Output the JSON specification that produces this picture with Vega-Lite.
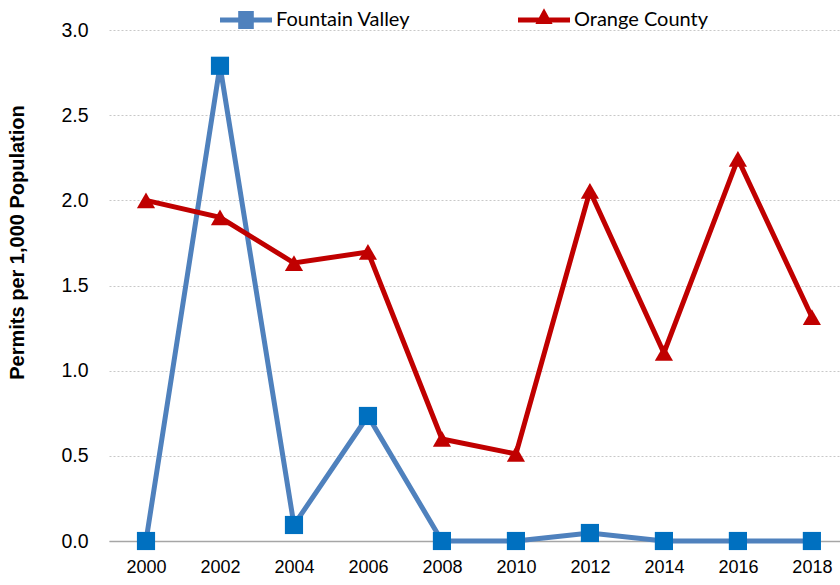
{
  "$schema": "https://vega.github.io/schema/vega-lite/v6.json",
  "autosize": {"type": "none"},
  "width": 731,
  "height": 511,
  "padding": {"left": 109, "top": 30, "right": 0, "bottom": 44},
  "background": "white",
  "config": {"view": {"stroke": null}},
  "data": {"values": [
    {"year": 2000, "series": "Fountain Valley", "v": 0},
    {"year": 2002, "series": "Fountain Valley", "v": 2.79},
    {"year": 2004, "series": "Fountain Valley", "v": 0.094},
    {"year": 2006, "series": "Fountain Valley", "v": 0.734},
    {"year": 2008, "series": "Fountain Valley", "v": 0},
    {"year": 2010, "series": "Fountain Valley", "v": 0},
    {"year": 2012, "series": "Fountain Valley", "v": 0.047},
    {"year": 2014, "series": "Fountain Valley", "v": 0},
    {"year": 2016, "series": "Fountain Valley", "v": 0},
    {"year": 2018, "series": "Fountain Valley", "v": 0},
    {"year": 2000, "series": "Orange County", "v": 2.0},
    {"year": 2002, "series": "Orange County", "v": 1.9},
    {"year": 2004, "series": "Orange County", "v": 1.632},
    {"year": 2006, "series": "Orange County", "v": 1.697},
    {"year": 2008, "series": "Orange County", "v": 0.599},
    {"year": 2010, "series": "Orange County", "v": 0.511},
    {"year": 2012, "series": "Orange County", "v": 2.055},
    {"year": 2014, "series": "Orange County", "v": 1.104},
    {"year": 2016, "series": "Orange County", "v": 2.243},
    {"year": 2018, "series": "Orange County", "v": 1.315}
  ]},
  "encoding": {
    "x": {
      "field": "year", "type": "quantitative",
      "scale": {"domain": [1999, 2018.76], "nice": false, "zero": false},
      "axis": {
        "values": [2000, 2002, 2004, 2006, 2008, 2010, 2012, 2014, 2016, 2018],
        "format": "d", "title": null, "grid": false, "ticks": false,
        "domainColor": "#a6a6a6", "domainWidth": 1.5,
        "labelFont": "Liberation Sans", "labelFontSize": 18, "labelColor": "#000000",
        "labelPadding": 17, "labelFlush": false
      }
    },
    "y": {
      "field": "v", "type": "quantitative",
      "scale": {"domain": [0, 3], "nice": false},
      "axis": {
        "values": [0, 0.5, 1, 1.5, 2, 2.5, 3],
        "format": ".1f", "title": "Permits per 1,000 Population",
        "titleFont": "Liberation Sans", "titleFontSize": 20, "titleFontWeight": "bold", "titleColor": "#000000",
        "titlePadding": 33, "titleY": 212,
        "domain": false, "ticks": false,
        "gridColor": "#c8c8c8", "gridDash": [2, 2], "gridWidth": 1,
        "labelFont": "Liberation Sans", "labelFontSize": 19.5, "labelColor": "#000000",
        "labelPadding": 21
      }
    }
  },
  "layer": [
    {
      "mark": {"type": "line", "strokeWidth": 5},
      "encoding": {
        "color": {
          "field": "series", "type": "nominal",
          "scale": {"domain": ["Fountain Valley", "Orange County"], "range": ["#4f81bd", "#c00000"]},
          "legend": {
            "title": null, "orient": "none", "direction": "horizontal",
            "legendX": 111, "legendY": -36,
            "symbolSize": 2704, "symbolStrokeWidth": 0,
            "labelFont": "Lato", "labelFontSize": 20, "labelColor": "#000000",
            "labelOffset": 4, "columnPadding": 107,
            "encode": {
              "symbols": {"update": {
                "shape": {"signal": "datum.value === 'Fountain Valley' ? 'M-1,-0.1H1V0.1H-1Z M-0.3,-0.35H0.3V0.35H-0.3Z' : 'M-1,-0.1H1V0.1H-1Z M0,-0.45L0.33,0.15H-0.33Z'"},
                "fill": {"signal": "datum.value === 'Fountain Valley' ? '#4f81bd' : '#c00000'"},
                "strokeWidth": {"value": 0},
                "opacity": {"value": 1}
              }}
            }
          }
        }
      }
    },
    {
      "mark": {"type": "point", "filled": true, "opacity": 1},
      "encoding": {
        "color": {
          "field": "series", "type": "nominal",
          "scale": {"domain": ["Fountain Valley", "Orange County"], "range": ["#0070c0", "#c00000"]},
          "legend": null
        },
        "shape": {
          "field": "series", "type": "nominal",
          "scale": {"domain": ["Fountain Valley", "Orange County"], "range": ["square", "triangle-up"]},
          "legend": null
        },
        "size": {"value": 330}
      }
    }
  ],
  "resolve": {"scale": {"color": "independent"}}
}
